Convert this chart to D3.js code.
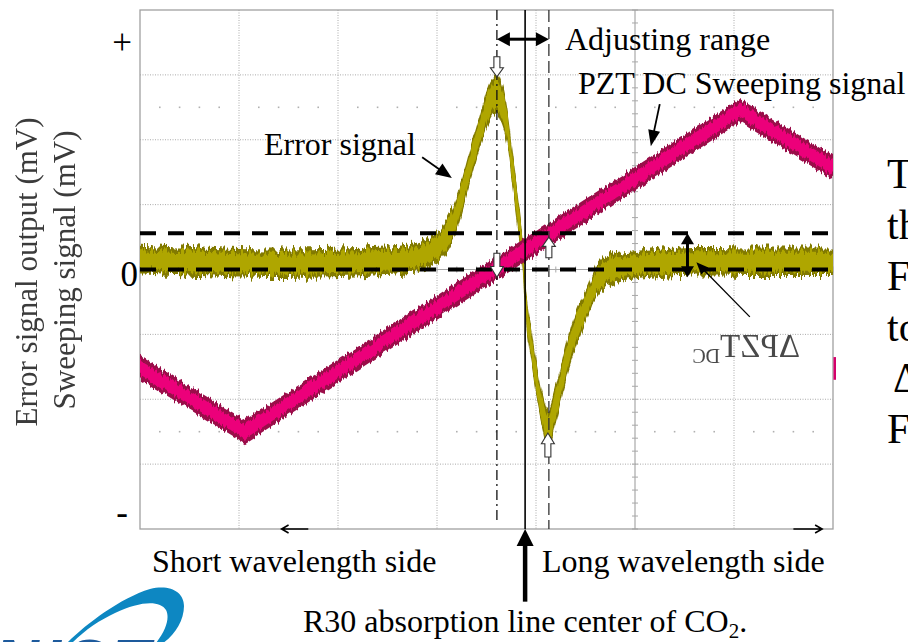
<!DOCTYPE html>
<html lang="en">
<head>
<meta charset="utf-8">
<title>Error signal / PZT DC sweeping signal</title>
<script src="https://cdn.jsdelivr.net/npm/d3@7"></script>
<style>
  body { margin: 0; background: #fff; overflow: hidden; }
  svg { display: block; }
  text { font-family: 'Liberation Serif', 'Times New Roman', serif; }
</style>
</head>
<body>
<div id="chart"></div>
<script>
// scope screen in divisions: x 0..7, y -4..4
const sweepX = [0, 1.06, 6.06, 7.0];
const sweepY = [-1.51, -2.5, 2.45, 1.57];
const sweepSpread = 0.18;

const errorX = [0, 0.61, 1.28, 2.29, 2.76, 3.00, 3.13, 3.23, 3.33, 3.43, 3.54, 3.60, 3.66, 3.71, 3.76, 3.81,
                3.86, 3.91, 3.96, 4.02, 4.07, 4.12, 4.21, 4.31, 4.41, 4.52, 4.62, 4.72, 4.92, 5.45, 6.26, 7.00];
const errorY = [0.16, 0.12, 0.09, 0.12, 0.18, 0.33, 0.61, 1.02, 1.58, 2.12, 2.60, 2.72, 2.53, 2.18, 1.58, 0.96,
                0.30, -0.72, -1.24, -1.83, -2.20, -2.46, -2.01, -1.39, -0.90, -0.52, -0.16, -0.02, 0.05, 0.12, 0.12, 0.12];
const errorSpread = [0.22, 0.22, 0.22, 0.22, 0.22, 0.23, 0.26, 0.26, 0.26, 0.26, 0.3, 0.3, 0.3, 0.27, 0.27, 0.27,
                     0.27, 0.27, 0.27, 0.27, 0.27, 0.3, 0.28, 0.28, 0.28, 0.24, 0.24, 0.24, 0.22, 0.22, 0.22, 0.22];

const yTickLabels = ['+', '0', '-'];
const yTickPos = [3.5, -0.08, -3.75];

// marker positions (divisions)
const peakX = 3.605, centerX = 3.89, rangeX = 4.13;
const levelY = [0, 0.56];

const W = 908, H = 642;
const x = d3.scaleLinear().domain([0, 7]).range([140, 833]);
const y = d3.scaleLinear().domain([-4, 4]).range([529, 10]);

let svg = d3.select('#chart').append('svg')
  .attr('width', W)
  .attr('height', H);

let defs = svg.append('defs');
defs.append('clipPath').attr('id', 'plot')
  .append('rect')
  .attr('x', x(0)).attr('y', y(4))
  .attr('width', x(7) - x(0)).attr('height', y(-4) - y(4));

function jagged(id, scale, fx) {
  let f = defs.append('filter').attr('id', id)
    .attr('x', '-2%').attr('y', '-10%').attr('width', '104%').attr('height', '120%');
  f.append('feTurbulence').attr('type', 'fractalNoise')
    .attr('baseFrequency', fx + ' 0.03').attr('numOctaves', 2).attr('seed', 7).attr('result', 't');
  f.append('feColorMatrix').attr('in', 't').attr('type', 'matrix')
    .attr('values', '0 0 0 0 0.5  0 1 0 0 0  0 0 0 0 0  0 0 0 0 1').attr('result', 'm');
  f.append('feDisplacementMap').attr('in', 'SourceGraphic').attr('in2', 'm')
    .attr('scale', scale).attr('xChannelSelector', 'R').attr('yChannelSelector', 'G');
}
jagged('jagErr', 16, 0.45);
jagged('jagSweep', 10, 0.5);
defs.append('filter').attr('id', 'soft')
  .append('feGaussianBlur').attr('stdDeviation', 0.6);

// grid
let grid = svg.append('g');
grid.selectAll('.vg')
  .data(d3.range(1, 7).filter(d => d !== 5))
  .enter().append('line')
  .attr('x1', d => x(d)).attr('x2', d => x(d))
  .attr('y1', y(4)).attr('y2', y(-4))
  .attr('stroke', '#aaa').attr('stroke-width', 1).attr('stroke-dasharray', '1,1.5');
grid.selectAll('.hg')
  .data(d3.range(-3, 4).filter(d => d !== 0))
  .enter().append('line')
  .attr('x1', x(0)).attr('x2', x(7))
  .attr('y1', d => y(d)).attr('y2', d => y(d))
  .attr('stroke', '#aaa').attr('stroke-width', 1).attr('stroke-dasharray', '1,1.5');

let fine = d3.range(0, 7.001, 0.2).filter(d => Math.abs(d - Math.round(d)) > 0.01);
[2.5, -2.5].forEach(r => {
  grid.selectAll(null).data(fine).enter().append('rect')
    .attr('x', d => x(d) - 0.8).attr('y', y(r) - 0.8)
    .attr('width', 1.6).attr('height', 1.6).attr('fill', '#b0b0b0');
});

grid.append('line')
  .attr('x1', x(5)).attr('x2', x(5)).attr('y1', y(4)).attr('y2', y(-4))
  .attr('stroke', '#a8a8a8').attr('stroke-width', 1.2);
grid.append('line')
  .attr('x1', x(0)).attr('x2', x(7)).attr('y1', y(0)).attr('y2', y(0))
  .attr('stroke', '#a8a8a8').attr('stroke-width', 1.2);
grid.selectAll('.vt')
  .data(d3.range(-4, 4.001, 0.2))
  .enter().append('line')
  .attr('x1', x(5) - 3).attr('x2', x(5) + 3)
  .attr('y1', d => y(d)).attr('y2', d => y(d))
  .attr('stroke', '#a8a8a8').attr('stroke-width', 1);
grid.selectAll('.ht')
  .data(d3.range(0, 7.001, 0.2))
  .enter().append('line')
  .attr('x1', d => x(d)).attr('x2', d => x(d))
  .attr('y1', y(0) - 3).attr('y2', y(0) + 3)
  .attr('stroke', '#a8a8a8').attr('stroke-width', 1);

grid.append('rect')
  .attr('x', x(0)).attr('y', y(4))
  .attr('width', x(7) - x(0)).attr('height', y(-4) - y(4))
  .attr('fill', 'none').attr('stroke', '#a0a0a0').attr('stroke-width', 1.3);

// error signal band
let errData = errorX.map((d, i) => [d, errorY[i], errorSpread[i]]);
let errBand = k => d3.area()
  .x(d => x(d[0]))
  .y0(d => y(d[1] - d[2] * k))
  .y1(d => y(d[1] + d[2] * k))
  .curve(d3.curveCatmullRom.alpha(0.5));

let gErr = svg.append('g').attr('clip-path', 'url(#plot)')
  .append('g').attr('filter', 'url(#jagErr)');
gErr.append('path').datum(errData).attr('d', errBand(1)).attr('fill', '#827a00');
gErr.append('path').datum(errData).attr('d', errBand(0.7)).attr('fill', '#afa600');

// sweeping signal band
let swData = sweepX.map((d, i) => [d, sweepY[i], sweepSpread]);
let swBand = k => d3.area()
  .x(d => x(d[0]))
  .y0(d => y(d[1] - d[2] * k))
  .y1(d => y(d[1] + d[2] * k));

let gSw = svg.append('g').attr('clip-path', 'url(#plot)')
  .append('g').attr('filter', 'url(#jagSweep)');
gSw.append('path').datum(swData).attr('d', swBand(1)).attr('fill', '#9a0a4a');
gSw.append('path').datum(swData).attr('d', swBand(0.6)).attr('fill', '#ec067a');

svg.append('rect')
  .attr('x', x(7) + 0.5).attr('y', y(-1.35))
  .attr('width', 2.5).attr('height', y(-1.7) - y(-1.35))
  .attr('fill', '#d4006a');

// level lines
svg.selectAll('.lvl')
  .data(levelY)
  .enter().append('line')
  .attr('x1', x(0)).attr('x2', x(7))
  .attr('y1', d => y(d)).attr('y2', d => y(d))
  .attr('stroke', '#000').attr('stroke-width', 4).attr('stroke-dasharray', '16,12');

// vertical marker lines
svg.append('line')
  .attr('x1', x(peakX)).attr('x2', x(peakX)).attr('y1', y(4)).attr('y2', y(-3.9))
  .attr('stroke', '#111').attr('stroke-width', 1.3).attr('stroke-dasharray', '10,4,2,4');
svg.append('line')
  .attr('x1', x(centerX)).attr('x2', x(centerX)).attr('y1', y(4)).attr('y2', y(-4))
  .attr('stroke', '#000').attr('stroke-width', 1.6);
svg.append('line')
  .attr('x1', x(rangeX)).attr('x2', x(rangeX)).attr('y1', y(4)).attr('y2', y(-4))
  .attr('stroke', '#333').attr('stroke-width', 1.3).attr('stroke-dasharray', '12,5');

// arrow helpers
function head(g, x1, y1, x2, y2, len, wid) {
  let a = Math.atan2(y2 - y1, x2 - x1);
  let bx = x2 - len * Math.cos(a), by = y2 - len * Math.sin(a);
  let px = -Math.sin(a) * wid / 2, py = Math.cos(a) * wid / 2;
  g.append('polygon')
    .attr('points', [[x2, y2], [bx + px, by + py], [bx - px, by - py]].map(p => p.join(',')).join(' '))
    .attr('fill', '#000');
  return [bx + Math.cos(a) * 1, by + Math.sin(a) * 1];
}
function arrow(x1, y1, x2, y2, sw, len, wid, both) {
  let g = svg.append('g');
  let e = head(g, x1, y1, x2, y2, len, wid);
  let s = both ? head(g, x2, y2, x1, y1, len, wid) : [x1, y1];
  g.append('line')
    .attr('x1', s[0]).attr('y1', s[1]).attr('x2', e[0]).attr('y2', e[1])
    .attr('stroke', '#000').attr('stroke-width', sw);
}
function openArrow(x1, y1, x2, y2) {
  let d = Math.sign(x2 - x1);
  svg.append('path')
    .attr('d', `M${x1},${y1}H${x2}M${x2 - d * 7},${y2 - 4}L${x2},${y2}L${x2 - d * 7},${y2 + 4}`)
    .attr('fill', 'none').attr('stroke', '#000').attr('stroke-width', 1.6);
}
function blockArrow(cx, tipY, tailY) {
  let dir = Math.sign(tipY - tailY);
  let hb = tipY - dir * Math.abs(tipY - tailY) * 0.45;
  let p = [[cx, tipY], [cx + 6.5, hb], [cx + 3, hb], [cx + 3, tailY], [cx - 3, tailY], [cx - 3, hb], [cx - 6.5, hb]];
  svg.append('path')
    .attr('d', 'M' + p.map(q => q.join(',')).join('L') + 'Z')
    .attr('fill', '#fff').attr('stroke', '#333').attr('stroke-width', 1.1);
}

arrow(x(peakX), y(3.55), x(rangeX), y(3.55), 3, 13, 14, true);
arrow(x(2.85), y(1.73), x(3.15), y(1.41), 1.8, 16, 13, false);
arrow(x(5.25), y(2.55), x(5.16), y(1.90), 1.8, 16, 12, false);
arrow(x(5.53), y(0.56), x(5.53), y(-0.12), 3, 11, 13, true);
arrow(x(6.16), y(-0.73), x(5.62), y(0.11), 1.3, 12, 10, false);
arrow(x(centerX), y(-5.12), x(centerX), y(-4), 4.5, 17, 17, false);

openArrow(x(1.70), y(-4), x(1.43), y(-4));
openArrow(x(6.60), y(-4), x(6.89), y(-4));

blockArrow(x(peakX), y(2.97), y(3.28));
blockArrow(x(peakX), y(-0.12), y(0.25));
blockArrow(x(rangeX), y(0.5), y(0.18));
blockArrow(x(4.12), y(-2.52), y(-2.89));

// y tick labels
svg.selectAll('.ylab')
  .data(yTickLabels)
  .enter().append('text')
  .attr('x', (d, i) => i === 1 ? 138 : 122)
  .attr('y', (d, i) => y(yTickPos[i]))
  .attr('dominant-baseline', 'central')
  .attr('text-anchor', (d, i) => i === 1 ? 'end' : 'middle')
  .attr('font-size', '35px')
  .text(d => d);

// axis titles
[['Error signal output (mV)', 37, 272], ['Sweeping signal (mV)', 75, 270]].forEach(t => {
  svg.append('text')
    .attr('transform', `translate(${t[1]},${t[2]}) rotate(-90)`)
    .attr('text-anchor', 'middle')
    .attr('font-size', '31px')
    .attr('fill', '#3a3a3a')
    .attr('filter', 'url(#soft)')
    .text(t[0]);
});

// annotations
let notes = [
  ['Adjusting range', 565, 50],
  ['PZT DC Sweeping signal', 578, 94],
  ['Error signal', 264, 155],
  ['Short wavelength side', 152, 572],
  ['Long wavelength side', 542, 572]
];
svg.selectAll('.note')
  .data(notes)
  .enter().append('text')
  .attr('x', d => d[1]).attr('y', d => d[2])
  .attr('font-size', '32px')
  .text(d => d[0]);

let r30 = svg.append('text').attr('x', 303).attr('y', 632).attr('font-size', '32px');
r30.append('tspan').text('R30 absorption line center of CO');
r30.append('tspan').attr('font-size', '21px').attr('dy', 6).text('2');
r30.append('tspan').attr('dy', -6).text('.');

let mir = svg.append('g')
  .attr('transform', 'translate(800,357) scale(-1,1)')
  .attr('filter', 'url(#soft)');
let dp = mir.append('text').attr('font-size', '33px').attr('fill', '#4a4a4a');
dp.append('tspan').text('ΔPZT');
dp.append('tspan').attr('font-size', '20px').attr('dy', 6).text('DC');

// cut-off body text on the right
let side = [['T', 887, 188], ['th', 887, 239], ['F', 887, 290], ['to', 887, 341], ['Δ', 893, 392], ['F', 887, 443]];
svg.selectAll('.side')
  .data(side)
  .enter().append('text')
  .attr('x', d => d[1]).attr('y', d => d[2])
  .attr('font-size', '42px')
  .text(d => d[0]);

// logo fragment
svg.append('path')
  .attr('d', 'M67,643 C85,625 120,598 150,589 C170,584 184,592 184,606 C184,620 175,635 163,643 L156,643 ' +
             'C166,630 170,618 166,610 C160,600 140,601 115,613 C100,620 85,630 72,643 Z')
  .attr('fill', '#0d87c2');
svg.append('text')
  .attr('x', -6).attr('y', 682)
  .style('font-family', "'Liberation Sans', Arial, sans-serif")
  .attr('font-weight', 'bold').attr('font-style', 'italic')
  .attr('font-size', '62px').attr('letter-spacing', 5)
  .attr('fill', '#1d5a9c')
  .text('NIST');
</script>
</body>
</html>
